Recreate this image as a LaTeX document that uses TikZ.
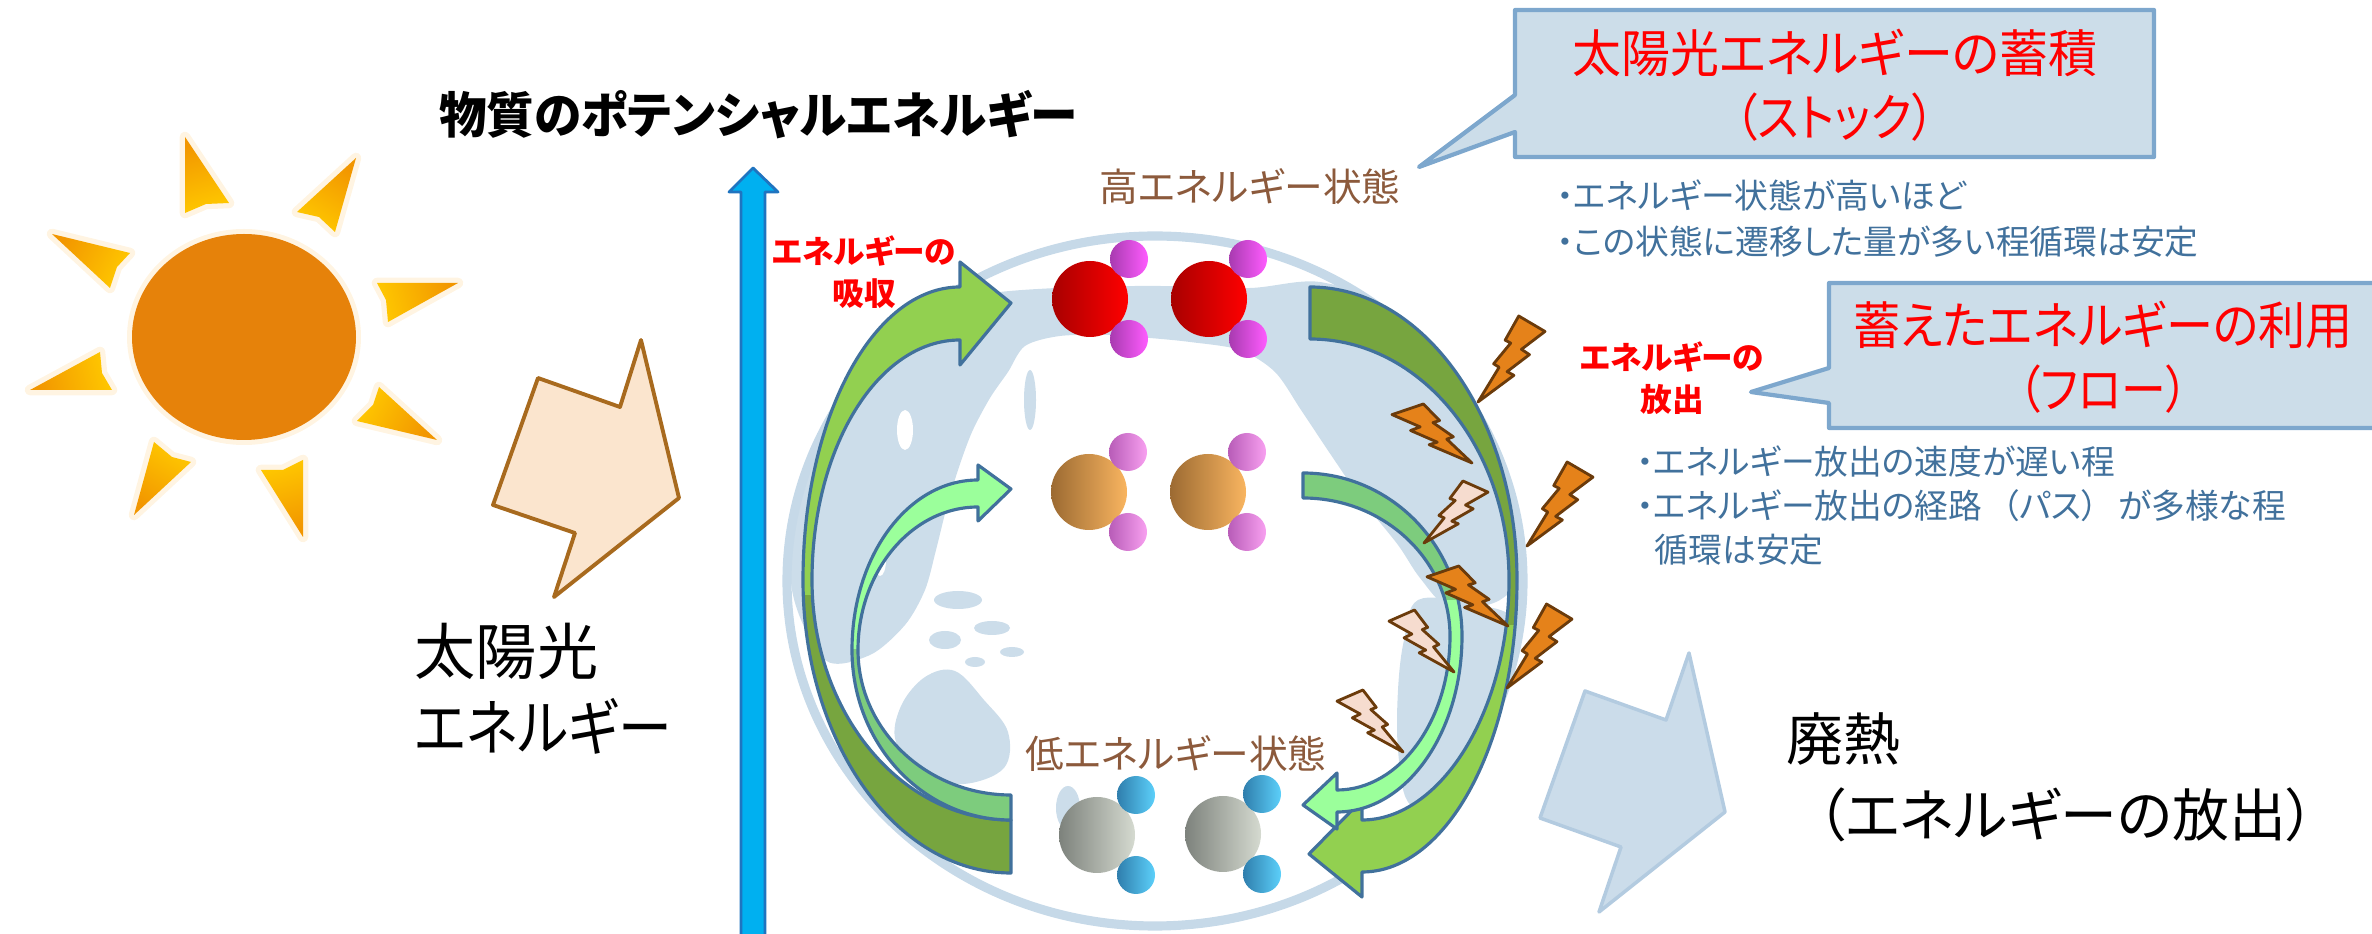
\documentclass[tikz,border=0pt]{standalone}
\usepackage{fontspec}
\setmainfont{Noto Sans CJK JP}[RawFeature=+palt]
\usetikzlibrary{calc}

\definecolor{sunorange}{HTML}{E6820A}
\definecolor{rayyellow}{HTML}{FFC800}
\definecolor{rayorange}{HTML}{F29600}
\definecolor{rayglow}{HTML}{FFF4E2}
\definecolor{peachfill}{HTML}{FBE5CE}
\definecolor{peachline}{HTML}{A86A1E}
\definecolor{skyblue}{HTML}{00B0F0}
\definecolor{deepblue}{HTML}{1F74C0}
\definecolor{landblue}{HTML}{CCDDEA}
\definecolor{ringblue}{HTML}{C6D9E8}
\definecolor{leafgreen}{HTML}{92D050}
\definecolor{olivegreen}{HTML}{77A53F}
\definecolor{mintgreen}{HTML}{9BFF9B}
\definecolor{midgreen}{HTML}{7DCC7D}
\definecolor{arrowedge}{HTML}{41719C}
\definecolor{boltorange}{HTML}{E5821A}
\definecolor{boltpink}{HTML}{F6DCCF}
\definecolor{boltedge}{HTML}{6B3B0B}
\definecolor{calloutfill}{HTML}{CCDDE9}
\definecolor{calloutedge}{HTML}{7DA7CD}
\definecolor{heatfill}{HTML}{CBDCEA}
\definecolor{heatedge}{HTML}{B3CBE0}
\definecolor{notecolor}{HTML}{41719C}
\definecolor{statebrown}{HTML}{8C5A3C}
\definecolor{redL}{HTML}{A80000}
\definecolor{redR}{HTML}{FF0000}
\definecolor{magL}{HTML}{A83AB0}
\definecolor{magR}{HTML}{FF5CFF}
\definecolor{ambL}{HTML}{9C6A32}
\definecolor{ambR}{HTML}{F9B560}
\definecolor{pinkL}{HTML}{B85CB8}
\definecolor{pinkR}{HTML}{F8A0F0}
\definecolor{greyL}{HTML}{7D827C}
\definecolor{greyR}{HTML}{D5DAD0}
\definecolor{ballL}{HTML}{2F7EAD}
\definecolor{ballR}{HTML}{5CD0FA}

\tikzset{
  raglow/.style={draw=rayglow, line width=3pt, fill=rayglow},
  land/.style={fill=landblue},
  arrowline/.style={draw=arrowedge, line width=0.9pt},
  boltO/.style={fill=boltorange, draw=boltedge, line width=0.8pt},
  boltP/.style={fill=boltpink, draw=boltedge, line width=0.8pt},
  callout/.style={fill=calloutfill, draw=calloutedge, line width=1.2pt},
  titletext/.style={inner sep=0pt, font=\bfseries\fontsize{14}{17}\selectfont},
  redlabel/.style={inner sep=0pt, text=red, align=center, font=\bfseries\fontsize{9}{12.1}\selectfont},
  statetext/.style={inner sep=0pt, text=statebrown, font=\fontsize{11}{13}\selectfont},
  calltext/.style={inner sep=0pt, text=red, align=center, font=\fontsize{14.5}{18.2}\selectfont},
  notetext/.style={inner sep=0pt, text=notecolor, align=left, anchor=west},
  bigtext/.style={inner sep=0pt, align=left, anchor=west},
}

% horizontally condensed text
\newcommand{\sx}[2]{\scalebox{#1}[1]{#2}}

% one sun ray: tip, three base points, gradient direction
\newcommand{\sunray}[5]{%
  \draw[raglow] #1 -- #2 -- #3 -- #4 -- cycle;
  \shade[top color=rayorange, bottom color=rayyellow, shading angle=#5] #1 -- #2 -- #3 -- #4 -- cycle;}

% lightning bolt in the box from corner (#1,#2) to its tip (#3,#4)
\newcommand{\bolt}[5]{%
  \begin{scope}[shift={(#1,#2)}, xscale={#3-#1}, yscale={#4-#2}]
    \draw[#5] (0.392,0) -- (0.595,0.281) -- (0.512,0.315) -- (0.767,0.556)
      -- (0.685,0.596) -- (1,1) -- (0.464,0.690) -- (0.566,0.647)
      -- (0.232,0.449) -- (0.352,0.388) -- (0,0.180) -- cycle;
  \end{scope}}

% a molecule: big atom with two small atoms on its right
\newcommand{\molecule}[6]{%
  \shade[left color=#3, right color=#4] (#1,#2) circle (38);
  \shade[left color=#5, right color=#6] ($(#1,#2)+(39,-40)$) circle (19);
  \shade[left color=#5, right color=#6] ($(#1,#2)+(39,40)$) circle (19);}

\def\absorbBig{(960,287) .. controls (873,287) and (803,418) .. (803,580)
  .. controls (803,742) and (896,873) .. (1011,873) -- (1011,820)
  .. controls (901,820) and (812,713) .. (812,580)
  .. controls (812,447) and (878,340) .. (960,340)
  -- (960,365) -- (1011,303) -- (960,262) -- cycle}
\def\absorbSmall{(978,480) .. controls (908,480) and (852,556) .. (852,650)
  .. controls (852,744) and (923,820) .. (1011,820) -- (1011,795)
  .. controls (927,795) and (858,730) .. (858,650)
  .. controls (858,571) and (912,507) .. (978,507)
  -- (978,521) -- (1011,489) -- (978,465) -- cycle}
\def\releaseBig{(1310,287) .. controls (1424,287) and (1517,418) .. (1517,580)
  .. controls (1517,741) and (1448,872) .. (1362,872)
  -- (1362,897) -- (1309,854) -- (1362,800) -- (1362,820)
  .. controls (1440,820) and (1509,712) .. (1509,580)
  .. controls (1509,447) and (1420,339) .. (1310,339) -- cycle}
\def\releaseSmall{(1303,473) .. controls (1391,473) and (1462,546) .. (1462,636)
  .. controls (1462,733) and (1406,812) .. (1337,812)
  -- (1337,829) -- (1303,805) -- (1337,773) -- (1337,790)
  .. controls (1399,790) and (1450,721) .. (1450,636)
  .. controls (1450,560) and (1384,498) .. (1303,498) -- cycle}

\begin{document}
\begin{tikzpicture}[x=0.01cm, y=-0.01cm, line join=round]
\useasboundingbox (0,0) rectangle (2372,934);

% ---- sun ----
\sunray{(185,137)}{(229,203)}{(206,204)}{(185,213)}{16}
\sunray{(356,158)}{(297,212)}{(319,217)}{(335,232)}{-32}
\sunray{(458,283)}{(377,283)}{(386,300)}{(388,322)}{-76}
\sunray{(437,440)}{(379,387)}{(373,405)}{(357,421)}{-118}
\sunray{(303,537)}{(303,460)}{(283,470)}{(261,470)}{-164}
\sunray{(134,515)}{(154,442)}{(172,457)}{(191,462)}{148}
\sunray{(30,390)}{(100,352)}{(102,373)}{(112,390)}{104}
\sunray{(52,234)}{(130,253)}{(117,267)}{(110,288)}{62}
\fill[rayglow] (244,337) ellipse [x radius=117, y radius=108];
\fill[sunorange] (244,337) ellipse [x radius=112, y radius=103];

% ---- sunlight arrow ----
\draw[fill=peachfill, draw=peachline, line width=1.1pt]
  (641,340) -- (679,498) -- (554,597) -- (575,533) -- (493,505) -- (538,378) -- (620,407) -- cycle;
\node[bigtext, font=\fontsize{17.4}{21.6}\selectfont] (sunlabel) at (414,689) {太陽光\\\sx{0.88}{エネルギー}};

% ---- potential energy axis ----
\draw[fill=skyblue, draw=deepblue, line width=0.8pt]
  (741,945) -- (741,192) -- (729,192) -- (753,168) -- (778,192) -- (765,192) -- (765,945) -- cycle;
\node[titletext] (title) at (758,115) {\sx{0.968}{物質のポテンシャルエネルギー}};

% ---- globe ----
\begin{scope}
  \clip (1155,581) ellipse [x radius=366, y radius=343];
  % Eurasia and North America
  \fill[land] plot[smooth cycle, tension=0.5] coordinates {
    (792,590) (796,480) (825,395) (875,335) (940,304) (1000,292) (1080,287)
    (1160,286) (1250,288) (1320,282) (1400,310) (1470,370) (1515,470)
    (1528,560) (1500,600) (1450,608) (1420,578) (1398,545) (1362,500)
    (1331,455) (1301,410) (1275,372) (1240,350) (1190,342) (1150,338)
    (1110,335) (1060,336) (1025,346) (1008,372) (990,398) (972,432)
    (958,470) (946,510) (936,550) (925,590) (905,625) (870,655) (825,660)};
  % South America
  \fill[land] plot[smooth cycle, tension=0.6] coordinates {
    (1418,600) (1470,604) (1515,620) (1522,680) (1500,735) (1470,785)
    (1440,812) (1408,802) (1398,750) (1398,690) (1404,640)};
  % Australia
  \fill[land] plot[smooth cycle, tension=0.6] coordinates {
    (925,677) (955,671) (984,700) (1008,732) (1004,768) (964,784)
    (925,774) (896,742) (901,706)};
  % island arcs
  \fill[land] (958,600) ellipse [x radius=24, y radius=9];
  \fill[land] (992,628) ellipse [x radius=18, y radius=7];
  \fill[land] (945,640) ellipse [x radius=16, y radius=9];
  \fill[land] (1012,652) ellipse [x radius=12, y radius=5];
  \fill[land] (975,662) ellipse [x radius=10, y radius=5];
  \fill[land] (1030,400) ellipse [x radius=6, y radius=30];
  \fill[land] (1068,808) ellipse [x radius=12, y radius=22];
  % lakes and bays
  \fill[white] (1420,350) ellipse [x radius=12, y radius=6];
  \fill[white] (1455,395) ellipse [x radius=9, y radius=5];
  \fill[white] (905,430) ellipse [x radius=8, y radius=20];
  \fill[white] (880,560) ellipse [x radius=6, y radius=16];
\end{scope}
\draw[draw=ringblue, line width=2.6pt] (1155,581) ellipse [x radius=368, y radius=345];

% ---- molecules ----
\molecule{1090}{299}{redL}{redR}{magL}{magR}
\molecule{1209}{299}{redL}{redR}{magL}{magR}
\molecule{1089}{492}{ambL}{ambR}{pinkL}{pinkR}
\molecule{1208}{492}{ambL}{ambR}{pinkL}{pinkR}
\molecule{1097}{835}{greyL}{greyR}{ballL}{ballR}
\molecule{1223}{834}{greyL}{greyR}{ballL}{ballR}
\node[statetext] (high) at (1250,187) {高エネルギー状態};
\node[statetext] (low) at (1176,754) {低エネルギー状態};

% ---- absorption arrows (left) ----
\fill[leafgreen] \absorbBig;
\begin{scope} \clip (700,596) rectangle (1100,950); \fill[olivegreen] \absorbBig; \end{scope}
\draw[arrowline] \absorbBig;
\fill[mintgreen] \absorbSmall;
\begin{scope} \clip (700,650) rectangle (1100,950); \fill[midgreen] \absorbSmall; \end{scope}
\draw[arrowline] \absorbSmall;

% ---- release arrows (right) ----
\fill[leafgreen] \releaseBig;
\begin{scope} \clip (1250,200) rectangle (1600,625); \fill[olivegreen] \releaseBig; \end{scope}
\draw[arrowline] \releaseBig;
\fill[mintgreen] \releaseSmall;
\begin{scope} \clip (1250,200) rectangle (1600,600); \fill[midgreen] \releaseSmall; \end{scope}
\draw[arrowline] \releaseSmall;

% ---- lightning ----
\bolt{1545}{316}{1478}{402}{boltO}
\bolt{1392}{404}{1472}{463}{boltO}
\bolt{1593}{462}{1527}{546}{boltO}
\bolt{1427}{566}{1508}{626}{boltO}
\bolt{1572}{604}{1507}{688}{boltO}
\bolt{1488}{481}{1424}{543}{boltP}
\bolt{1389}{610}{1454}{672}{boltP}
\bolt{1337}{690}{1403}{752}{boltP}

\node[redlabel] (absorb) at (864,272) {エネルギーの\\吸収};
\node[redlabel] (release) at (1672,378) {エネルギーの\\放出};

% ---- callouts ----
\draw[callout] (1515,10) -- (2154,10) -- (2154,157) -- (1515,157) -- (1515,132) -- (1419,167) -- (1515,95) -- cycle;
\node[calltext] (stock) at (1835,85) {\sx{0.96}{太陽光エネルギーの蓄積}\\\sx{0.9}{（ストック）}};
\node[notetext, font=\fontsize{9.6}{13.1}\selectfont] (stocknote) at (1556,219)
  {・エネルギー状態が高いほど\\・この状態に遷移した量が多い程循環は安定};

\draw[callout] (1829,283) -- (2390,283) -- (2390,428) -- (1829,428) -- (1829,403) -- (1751,392) -- (1829,368) -- cycle;
\node[calltext] (flow) at (2103,357) {\sx{0.925}{蓄えたエネルギーの利用}\\\sx{0.88}{（フロー）}};
\node[notetext, font=\fontsize{9.6}{12.5}\selectfont] (flownote) at (1636,506)
  {・エネルギー放出の速度が遅い程\\・エネルギー放出の経路\hspace{0.2cm}（パス）\hspace{0.2cm}が多様な程\\\hspace{0.18cm}循環は安定};

% ---- waste heat ----
\draw[fill=heatfill, draw=heatedge, line width=1pt]
  (1689,653) -- (1725,812) -- (1599,912) -- (1621,847) -- (1540,818) -- (1585,691) -- (1666,720) -- cycle;
\node[bigtext, font=\fontsize{16.2}{21.6}\selectfont] (heat) at (1786,777) {廃熱\\\hspace{0.3cm}（エネルギーの放出）};
\end{tikzpicture}
\end{document}
